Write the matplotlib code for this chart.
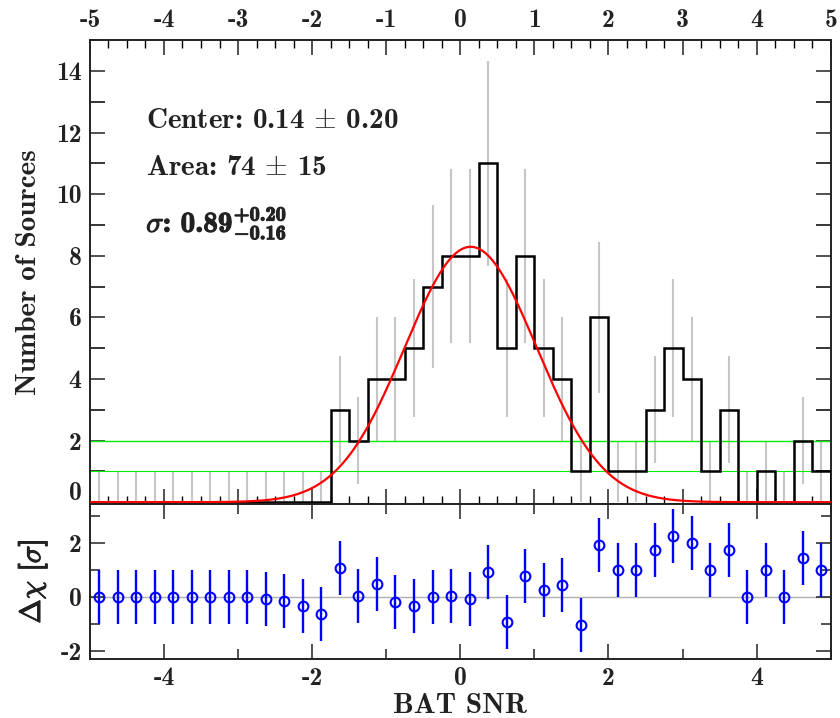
import numpy as np
import matplotlib
matplotlib.use("Agg")
import matplotlib.pyplot as plt
from matplotlib.ticker import MultipleLocator, FuncFormatter
import matplotlib.patheffects as pe

plt.rcParams['font.family'] = ['cmb10', 'DejaVu Serif']
plt.rcParams['mathtext.fontset'] = 'custom'
plt.rcParams['mathtext.rm'] = 'cmb10'
plt.rcParams['mathtext.bf'] = 'cmb10'
plt.rcParams['mathtext.it'] = 'cmmi10'
plt.rcParams['mathtext.fallback'] = 'cm'
plt.rcParams['axes.unicode_minus'] = False

# histogram of BAT SNR, 0.25 wide bins from -5 to 5
bin_edges = np.arange(-5.0, 5.0 + 0.125, 0.25)
counts = [0, 0, 0, 0, 0, 0, 0, 0, 0, 0, 0, 0, 0,
          3, 2, 4, 4, 5, 7, 8, 8, 11, 5, 8, 5, 4, 1, 6,
          1, 1, 3, 5, 4, 1, 3, 0, 1, 0, 2, 1]
# residuals in units of sigma
resid = [0, 0, 0, 0, 0, 0, 0, 0, -0.02, -0.07, -0.16, -0.33, -0.65,
         1.05, 0.02, 0.47, -0.19, -0.33, -0.01, 0.02, -0.1, 0.9, -0.95,
         0.75, 0.24, 0.42, -1.03, 1.93, 1.0, 1.0, 1.73, 2.23, 1.99, 1.0,
         1.73, 0.0, 1.0, 0.0, 1.42, 1.0]
resid_err = [1.0] * 40

# gaussian fit parameters
fit_center = 0.14
fit_area = 74
fit_sigma = 0.89

txt_col = '#222222'

counts = np.array(counts, dtype=float)
centers = 0.5 * (bin_edges[:-1] + bin_edges[1:])
errs = np.where(counts > 0, np.sqrt(counts), 1.0)
bw = bin_edges[1] - bin_edges[0]

fig = plt.figure(figsize=(8.4, 7.18), dpi=100)
ax1 = fig.add_axes([0.107, 0.298, 0.882, 0.646])
ax2 = fig.add_axes([0.107, 0.082, 0.882, 0.216])

# data errors (gray), reference lines, histogram, model
ax1.vlines(centers, counts - errs, counts + errs, color='#c6c6c6', lw=1.5, zorder=1)
ax1.axhline(2, color='#00ee00', lw=1.0, zorder=2)
ax1.axhline(1, color='#00ee00', lw=0.8, zorder=2)
ax1.stairs(counts, bin_edges, baseline=0, color='black', lw=1.8, zorder=3)
xx = np.linspace(-5, 5, 600)
model = fit_area * bw / (fit_sigma * np.sqrt(2 * np.pi)) * np.exp(-0.5 * ((xx - fit_center) / fit_sigma) ** 2)
ax1.plot(xx, model, color='red', lw=1.6, zorder=4)

ax1.set_xlim(-5, 5)
ax1.set_ylim(-0.06, 15.0)
ax1.xaxis.set_major_locator(MultipleLocator(1))
ax1.xaxis.set_minor_locator(MultipleLocator(0.25))
ax1.yaxis.set_major_locator(MultipleLocator(2))
ax1.yaxis.set_minor_locator(MultipleLocator(1))
# the zero label sits a bit above its tick, drawn separately below
ax1.yaxis.set_major_formatter(FuncFormatter(lambda v, p: '' if abs(v) < 1e-9 else '%d' % v))
ax1.tick_params(axis='x', which='both', direction='in', top=True, bottom=True,
                labeltop=True, labelbottom=False)
ax1.tick_params(axis='y', which='both', direction='in', left=True, right=True)
ax1.tick_params(which='major', length=11, width=1.1, labelsize=18.5, colors=txt_col, pad=6)
ax1.tick_params(axis='x', which='minor', length=6, width=1.0)
ax1.tick_params(axis='y', which='minor', length=11, width=1.1)
ax1.annotate('0', xy=(0, 0), xycoords=('axes fraction', 'data'), xytext=(-6, 6.5),
             textcoords='offset points', ha='right', va='center', fontsize=18.5,
             color=txt_col, annotation_clip=False)
ax1.set_ylabel('Number of Sources', fontsize=21, color=txt_col, labelpad=10)

bold = [pe.withStroke(linewidth=0.8, foreground=txt_col)]
ax1.text(-4.24, 12.37, r'Center: 0.14 $\pm$ 0.20', fontsize=21,
         color=txt_col, va='center', math_fontfamily='cm')
ax1.text(-4.24, 10.84, r'Area: 74 $\pm$ 15', fontsize=21,
         color=txt_col, va='center', math_fontfamily='cm')
ax1.text(-4.24, 9.05, r'$\sigma$: $0.89^{+0.20}_{-0.16}$', fontsize=21,
         color=txt_col, va='center', path_effects=bold)

# residual panel
ax2.axhline(0, color='#b0b0b0', lw=1.0, zorder=1)
ax2.errorbar(centers, resid, yerr=resid_err, fmt='o', color='#0000ff', mfc='none',
             mec='#0000ff', ms=7, mew=1.5, elinewidth=1.7, capsize=0, zorder=3)
ax2.set_xlim(-5, 5)
ax2.set_ylim(-2.31, 3.43)
ax2.xaxis.set_major_locator(MultipleLocator(2))
ax2.xaxis.set_minor_locator(MultipleLocator(1))
ax2.yaxis.set_major_locator(MultipleLocator(2))
ax2.yaxis.set_minor_locator(MultipleLocator(1))
ax2.tick_params(which='both', direction='in', top=True, right=True, colors=txt_col)
ax2.tick_params(which='major', length=11, width=1.1, labelsize=18.5, pad=6)
ax2.tick_params(which='minor', length=7, width=1.1)
ax2.set_xlabel('BAT SNR', fontsize=21, color=txt_col, labelpad=2)
ax2.set_ylabel(r'$\Delta\chi$ [$\sigma$]', fontsize=21, color=txt_col, labelpad=8,
               path_effects=bold)

for ax in (ax1, ax2):
    for sp in ax.spines.values():
        sp.set_linewidth(1.4)
        sp.set_color(txt_col)

fig.savefig('out.png', dpi=100)
